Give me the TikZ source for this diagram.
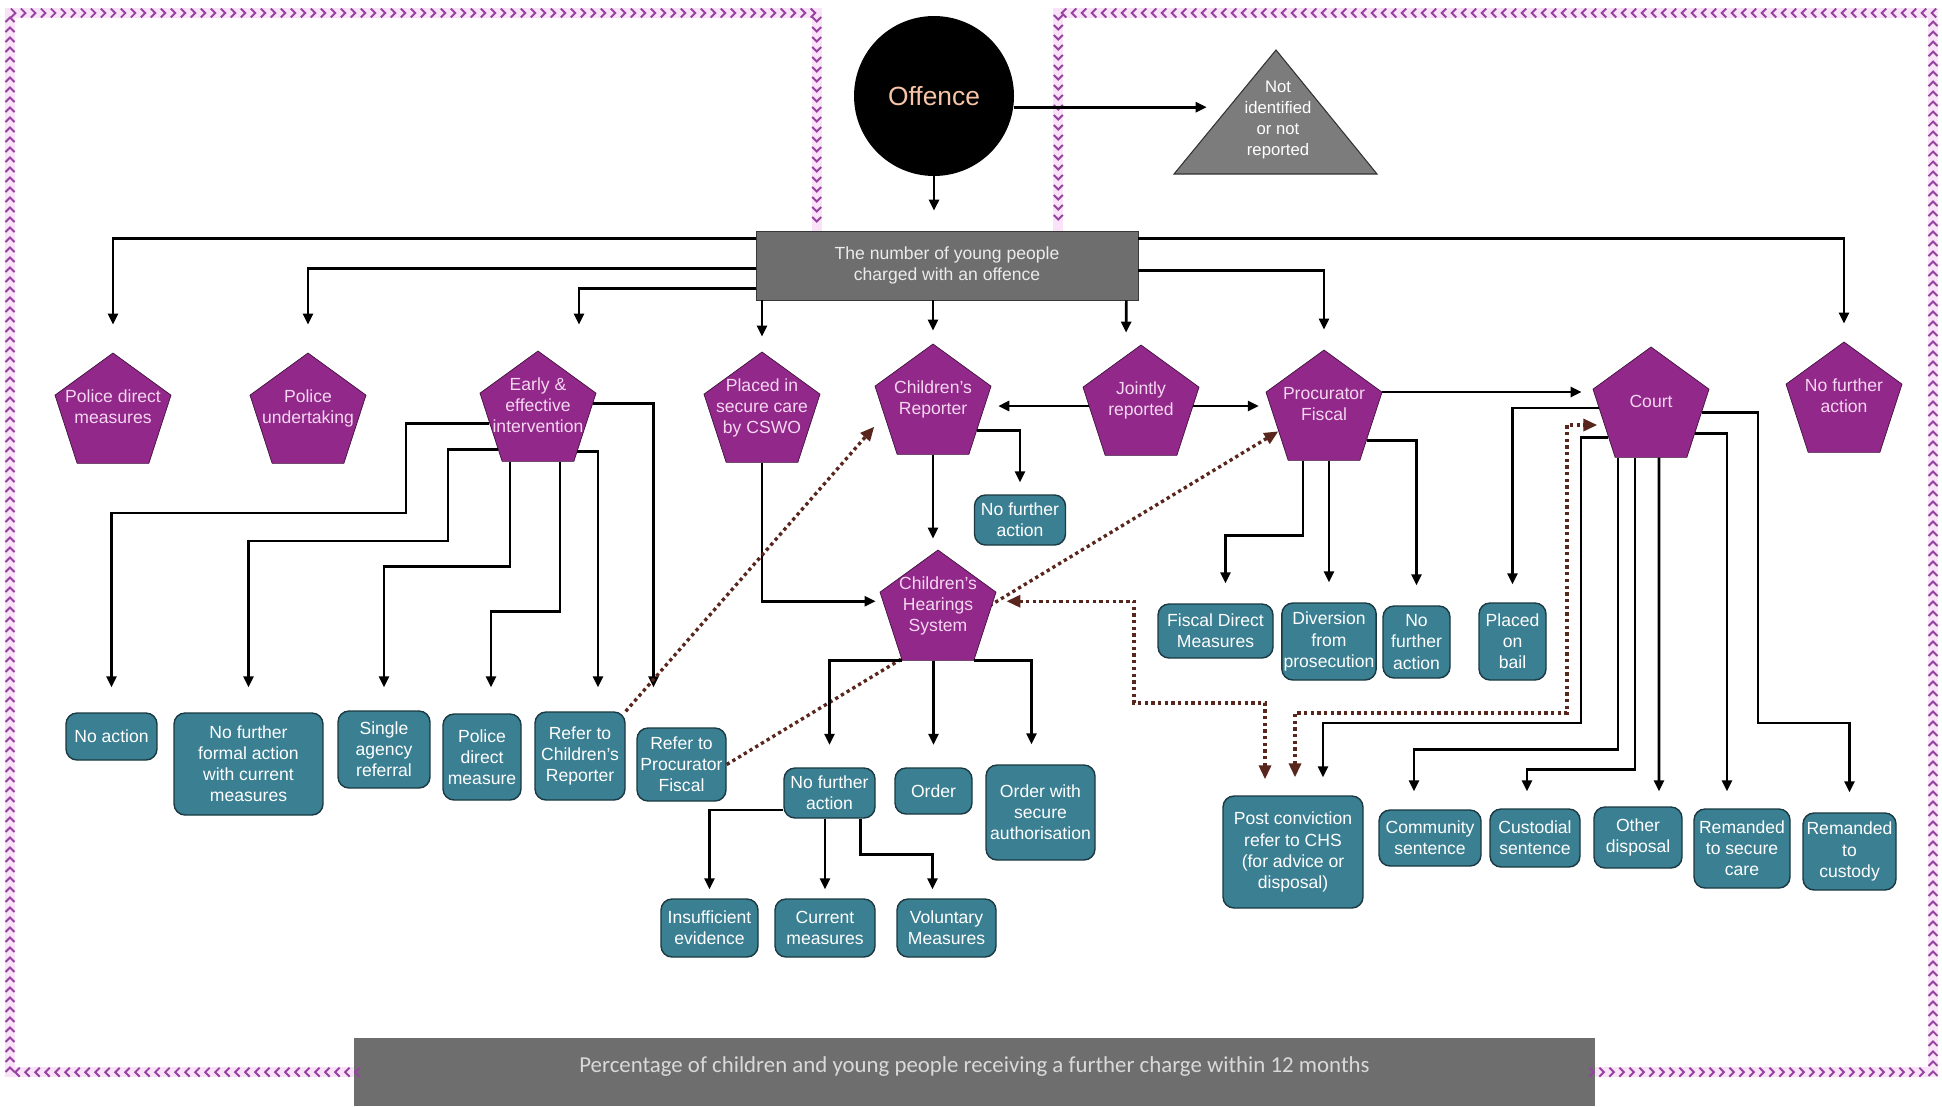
\documentclass[tikz,border=0pt]{standalone}
\usepackage{fontspec}
\setmainfont{Liberation Sans}
\newfontfamily\bannerfont{Carlito}
\usetikzlibrary{shapes.geometric,arrows.meta,decorations.markings,calc,backgrounds}

\definecolor{purp}{RGB}{145,40,138}
\definecolor{pentxt}{RGB}{246,214,240}
\definecolor{tealbox}{RGB}{58,127,146}
\definecolor{greybox}{RGB}{110,110,110}
\definecolor{tribox}{RGB}{124,124,124}
\definecolor{peach}{RGB}{248,196,168}
\definecolor{chevron}{RGB}{150,66,160}
\definecolor{halo}{RGB}{250,226,248}
\definecolor{dotbrown}{RGB}{88,38,28}

\begin{document}
\begin{tikzpicture}[x=0.02cm, y=-0.02cm,
  >={Triangle[length=0.22cm,width=0.2cm]},
  pent/.style={regular polygon, regular polygon sides=5, minimum size=2.44cm, inner sep=-10pt, text depth=8pt,
    fill=purp, draw=purp!45!black, text=pentxt, align=center, font=\fontsize{10}{12}\selectfont},
  outcome/.style={rectangle, rounded corners=0.22cm, fill=tealbox, draw=tealbox!45!black, line width=0.8pt,
    text=white, align=center, inner sep=1pt, font=\fontsize{10}{12}\selectfont},
  conn/.style={->, line width=1.5pt, shorten >=0.4cm},
  refer/.style={line width=1.9pt, draw=dotbrown, dash pattern=on 1.9pt off 1.9pt,
    >={Triangle[length=0.28cm,width=0.24cm]}},
  border/.style={line width=0.2cm, halo, postaction={decorate},
    decoration={markings, mark=between positions 0 and 1 step 0.2cm with
      {\arrow{Straight Barb[length=0.09cm,width=0.18cm,line width=1.1pt,color=chevron]}}}}]

\useasboundingbox (0,0) rectangle (1942,1106);

% Define the start
\node[circle, fill=black, minimum size=3.2cm, inner sep=0pt, text=peach, font=\fontsize{15}{18}\selectfont] (offence) at (934,96) {Offence};
\filldraw[fill=tribox, draw=tribox!40!black, line width=0.6pt] (1276,50) -- (1377,174) -- (1174,174) -- cycle;
\node[text=white, align=center, minimum width=2.2cm, font=\fontsize{9.5}{12}\selectfont] (notid) at (1278,120) {Not\\identified\\or not\\reported};
\node[fill=greybox, draw=greybox!50!black, minimum width=7.64cm, minimum height=1.38cm, align=center, text=white!92!black, font=\fontsize{10}{12}\selectfont] (charged) at (947,265.5) {The number of young people\\charged with an offence};
\node[fill=greybox, minimum width=24.82cm, anchor=north, inner sep=3pt, text height=16.5pt, text depth=16pt, text=white!85!black, font=\bannerfont\fontsize{13}{15}\selectfont] (recharge) at (974.5,1038) {Percentage of children and young people receiving a further charge within 12 months};

% Define the agencies
\node[pent] (policedm) at (113,414) {Police direct\\measures};
\node[pent] (policeu) at (308,414) {Police\\undertaking};
\node[pent] (eei) at (538,412) {Early \&\\effective\\intervention};
\node[pent] (securecare) at (762,413) {Placed in\\secure care\\by CSWO};
\node[pent] (reporter) at (933,405) {Children's\\Reporter};
\node[pent] (jointly) at (1141,406) {Jointly\\reported};
\node[pent] (fiscal) at (1324,411) {Procurator\\Fiscal};
\node[pent] (court) at (1651,408) {Court};
\node[pent] (nfatop) at (1844,403) {No further\\action};
\node[pent] (hearings) at (938,611) {Children's\\Hearings\\System};

% Define the outcomes
\node[outcome, minimum width=1.82cm, minimum height=0.94cm] (noaction) at (111.5,736.5) {No action};
\node[outcome, minimum width=2.98cm, minimum height=2.04cm] (nffa) at (248.5,764) {No further\\formal action\\with current\\measures};
\node[outcome, minimum width=1.84cm, minimum height=1.54cm] (single) at (384,749.5) {Single\\agency\\referral};
\node[outcome, minimum width=1.56cm, minimum height=1.72cm] (policedmbox) at (482,757) {Police\\direct\\measure};
\node[outcome, minimum width=1.8cm, minimum height=1.76cm] (refcr) at (580,756) {Refer to\\Children's\\Reporter};
\node[outcome, minimum width=1.78cm, minimum height=1.46cm] (refpf) at (681.5,764.5) {Refer to\\Procurator\\Fiscal};
\node[outcome, minimum width=1.82cm, minimum height=1cm] (nfarep) at (1020,520) {No further\\action};
\node[outcome, minimum width=1.82cm, minimum height=1cm] (nfachs) at (829.5,793) {No further\\action};
\node[outcome, minimum width=1.54cm, minimum height=0.92cm] (order) at (933.5,791) {Order};
\node[outcome, minimum width=2.18cm, minimum height=1.9cm] (ordersec) at (1040.5,812.5) {Order with\\secure\\authorisation};
\node[outcome, minimum width=1.94cm, minimum height=1.16cm] (insuff) at (709.5,928) {Insufficient\\evidence};
\node[outcome, minimum width=2cm, minimum height=1.16cm] (current) at (825,928) {Current\\measures};
\node[outcome, minimum width=1.98cm, minimum height=1.16cm] (voluntary) at (946.5,928) {Voluntary\\Measures};
\node[outcome, minimum width=2.3cm, minimum height=1.08cm] (fiscaldm) at (1215.5,631) {Fiscal Direct\\Measures};
\node[outcome, minimum width=1.88cm, minimum height=1.54cm] (diversion) at (1329,641.5) {Diversion\\from\\prosecution};
\node[outcome, minimum width=1.34cm, minimum height=1.44cm] (nfafis) at (1416.5,642) {No\\further\\action};
\node[outcome, minimum width=1.34cm, minimum height=1.54cm] (bail) at (1512.5,641.5) {Placed\\on\\bail};
\node[outcome, minimum width=2.8cm, minimum height=2.24cm] (postconv) at (1293,852) {Post conviction\\refer to CHS\\(for advice or\\disposal)};
\node[outcome, minimum width=2.04cm, minimum height=1.12cm] (community) at (1430,838) {Community\\sentence};
\node[outcome, minimum width=1.8cm, minimum height=1.16cm] (custodial) at (1535,838) {Custodial\\sentence};
\node[outcome, minimum width=1.76cm, minimum height=1.22cm] (otherdisp) at (1638,837.5) {Other\\disposal};
\node[outcome, minimum width=1.92cm, minimum height=1.58cm] (remsecure) at (1742,848.5) {Remanded\\to secure\\care};
\node[outcome, minimum width=1.86cm, minimum height=1.54cm] (remcustody) at (1849.5,851.5) {Remanded\\to\\custody};

% Draw the loops back to the start
\draw[border] (recharge.west) -| (10,13) -| ($(charged.north west)+(61,0)$);
\draw[border] (recharge.east) -| (1933,13) -| ($(charged.north east)+(-80,0)$);

% Draw the arrows from the offence
\draw[conn] (offence.south) -- (offence.south |- charged.north);
\draw[conn, shorten >=0.32cm] (offence.-8) -- (offence.-8 -| notid.west);
\draw[conn, shorten >=0.56cm] ($(charged.north west)+(0,8)$) -| (policedm.north);
\draw[conn, shorten >=0.56cm] ($(charged.north west)+(0,38)$) -| (policeu.north);
\draw[conn, shorten >=0.52cm] ($(charged.north west)+(0,58)$) -| ($(eei.north)+(41,0)$);
\draw[conn, shorten >=0.3cm] (charged.south -| securecare.north) -- (securecare.north);
\draw[conn, shorten >=0.26cm] (charged.south -| reporter.north) -- (reporter.north);
\draw[conn, shorten >=0.24cm] ($(charged.south east)+(-12,0)$) -- ($(jointly.north)+(-15,0)$);
\draw[conn] ($(charged.north east)+(0,40)$) -| (fiscal.north);
\draw[conn, shorten >=0.36cm] ($(charged.north east)+(0,8)$) -| (nfatop.north);

% Draw the arrows between the agencies
\draw[conn, shorten >=0.26cm] (jointly.west) -- (jointly.west -| reporter.east);
\draw[conn, shorten >=0.26cm] (jointly.east) -- (jointly.east -| fiscal.west);
\draw[conn, shorten >=0.22cm] (fiscal.corner 5) -- (fiscal.corner 5 -| court.corner 2);
\draw[conn, shorten >=0.24cm] (reporter.-30) -| (nfarep.north);
\draw[conn, shorten >=0.22cm] (reporter.south) -- (reporter.south |- hearings.north);
\draw[conn, shorten >=0.14cm] (securecare.south) |- (hearings.170);

% Early and effective intervention
\draw[conn, shorten >=0.5cm] (eei.193) -| (406,513) -| (noaction.north);
\draw[conn, shorten >=0.5cm] (eei.223) -| (448,541) -| (nffa.north);
\draw[conn, shorten >=0.46cm] ($(eei.south)+(-28,0)$) -- ++(0,105) -| (single.north);
\draw[conn, shorten >=0.52cm] ($(eei.south)+(22,0)$) -- ++(0,150) -| ($(policedmbox.north)+(9,0)$);
\draw[conn, shorten >=0.48cm] (eei.315) -| ($(refcr.north)+(18,0)$);
\draw[conn, shorten >=0.8cm] (eei.9) -| ($(refpf.north)+(-28,0)$);

% Children's hearings
\draw[conn, shorten >=0.45cm] (hearings.corner 3) -| (nfachs.north);
\draw[conn, shorten >=0.45cm] (hearings.south -| order.north) -- (order.north);
\draw[conn] (hearings.corner 4) -| ($(ordersec.north)+(-9,0)$);
\draw[conn, shorten >=0.18cm] ($(nfachs.west)+(0,17)$) -| (insuff.north);
\draw[conn, shorten >=0.18cm] (nfachs.south -| current.north) -- (current.north);
\draw[conn, shorten >=0.18cm] ($(nfachs.south)+(31,0)$) -- ++(0,36) -| ($(voluntary.north)+(-14,0)$);

% Procurator fiscal
\draw[conn] ($(fiscal.south)+(-21,0)$) -- ++(0,75) -| ($(fiscaldm.north)+(10,0)$);
\draw[conn] (fiscal.south -| diversion.north) -- (diversion.north);
\draw[conn] (fiscal.-35) -| (nfafis.north);

% Court
\draw[conn, shorten >=0.36cm] (court.west) -| (bail.north);
\draw[conn, shorten >=0.36cm] (court.215) -| (1581,723) -| ($(postconv.north)+(30,0)$);
\draw[conn, shorten >=0.36cm] ($(court.south)+(-33,0)$) -- ++(0,292) -| ($(community.north)+(-16,0)$);
\draw[conn, shorten >=0.34cm] ($(court.south)+(-16,0)$) -- ++(0,312) -| ($(custodial.north)+(-8,0)$);
\draw[conn, shorten >=0.3cm] ($(court.south)+(8,0)$) -- ($(otherdisp.north)+(21,0)$);
\draw[conn, shorten >=0.34cm] (court.-30) -| ($(remsecure.north)+(-15,0)$);
\draw[conn] (court.-5) -| (1758,723) -| (remcustody.north);

% Draw the referrals
\draw[refer, ->, shorten >=0.3cm] (refcr.north east) -- (reporter.192);
\draw[refer, <->, shorten <=0.32cm, shorten >=0.26cm] ($(postconv.north)+(-28,0)$) |- (1134,703) |- (hearings.10);
\draw[refer, <->, shorten <=0.36cm, shorten >=0.14cm] ($(postconv.north)+(2,0)$) |- (1567,713) |- (court.200);
\begin{scope}[on background layer]
  \fill[white] (0,0) rectangle (1942,1106);
  \draw[refer, ->] (refpf.east) -- (fiscal.204);
\end{scope}
\end{tikzpicture}
\end{document}
